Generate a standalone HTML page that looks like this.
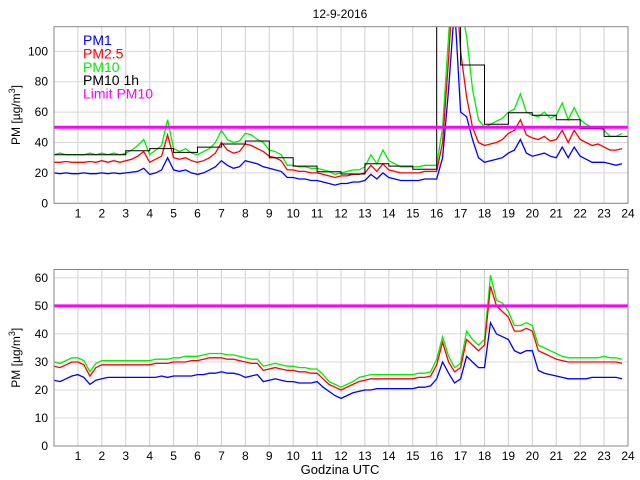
<!DOCTYPE html>
<html><head><meta charset="utf-8"><style>
html,body{margin:0;padding:0;background:#fff}
svg{display:block;font-family:"Liberation Sans",sans-serif}
</style></head><body>
<svg id="chart" width="640" height="480" viewBox="0 0 640 480" xmlns="http://www.w3.org/2000/svg">
<text x="340" y="18" font-size="12" text-anchor="middle">12-9-2016</text>
<g id="top"></g>
<g id="bot"></g>
<text x="340" y="474" font-size="13" text-anchor="middle">Godzina UTC</text>
</svg>
<script>
const hourTicks=[1,2,3,4,5,6,7,8,9,10,11,12,13,14,15,16,17,18,19,20,21,22,23,24];
const topYTicks=[0,20,40,60,80,100];
const botYTicks=[0,10,20,30,40,50,60];
const limitPM10=50;
const topPM1=[20,19.5,20,19.5,19.5,20,19.5,19.5,20,19.5,20,19.5,20,20.5,21,23,19,20,22,30,22,21,22,20,19,20,22,24,28,25,23,24,28,27,26,24,23,22,21,17,17,16,16,15,15,14,13,12,13,13,14,14,15,19,16,20,17,16,15,15,15,15,16,16,16,30,75,130,60,57,42,30,27,28,29,30,33,35,42,33,31,32,33,31,30,37,30,37,31,29,27,27,27,26,25,26];
const topPM25=[27,27,27.5,27,27,27,27.5,27,28,27,28,27,28,29,31,34,27,29,31,45,30,29,30,28,27,28,30,33,40,35,33,34,39,38,36,34,31,30,28,22,22,21,21,20,20,19,18,17,18,18,19,19,20,25,21,26,22,21,20,20,20,20,21,21,21,40,95,160,100,70,50,40,38,39,40,42,46,48,55,45,43,42,44,41,42,48,40,48,42,40,38,39,37,35,35,36];
const topPM10=[32,33,32,32,32,32,33,32,33,32,33,32,33,35,38,42,32,35,38,55,36,34,36,33,32,34,36,40,48,42,40,41,46,45,42,40,35,34,32,25,25,24,24,23,23,22,21,19,20,21,22,22,24,32,26,35,28,26,24,24,24,24,25,25,25,50,110,180,130,110,75,55,50,52,54,56,60,62,72,60,58,57,60,56,58,66,55,63,55,52,50,50,48,44,44,46];
const topPM10h=[32,32,32,34.6,36,33.5,37,39,41,30,24.5,20.7,19.3,26,24.5,22.4,140,91,52,59.6,58,55,49,44];
const botPM1=[23.5,23,24,25,25.5,24.5,22,23.5,24,24.5,24.5,24.5,24.5,24.5,24.5,24.5,24.5,24.5,25,24.5,25,25,25,25,25.5,25.5,26,26,26.5,26,26,25.5,24.5,25,25.5,23,23.5,24,23.5,23,23,22.5,22.5,22.5,23,21,19.5,18,17,18,19,19.5,20,20,20.5,20.5,20.5,20.5,20.5,20.5,20.5,21,21,21.5,24,30,26,22.5,24,32,30,28,28,44,40,39,38,34,33,34,34,27,26,25.5,25,24.5,24,24,24,24,24.5,24.5,24.5,24.5,24.5,24];
const botPM25=[28.5,28,29,30,30,29,25,28,29,29,29,29,29,29,29,29,29,29.5,29.5,29.5,30,30,30,30.5,30.5,31,31.5,31.5,31.5,31,31,30.5,30,29.5,29.5,27,27.5,28,27.5,27,27,26.5,26.5,26,26,24,22,21,20,21,22,23,23.5,24,24,24,24,24,24,24,24,24.5,24.5,25,29,37,30,26.5,28,38,36,34,36,57,50,48,46,41,41,42,41,34,33,32,31,30.5,30,30,30,30,30,30,30,30,30,29.5];
const botPM10=[30,29.5,30.5,31.5,31.5,30.5,26.5,29.5,30.5,30.5,30.5,30.5,30.5,30.5,30.5,30.5,30.5,31,31,31,31.5,31.5,32,32,32,32.5,33,33,33,32.5,32.5,32,31.5,31,31,28.5,29,29.5,29,28.5,28.5,28,28,27.5,27.5,25.5,23,22,21,22,23,24.5,25,25.5,25.5,25.5,25.5,25.5,25.5,25.5,25.5,26,26,26.5,31,39,32,28,29.5,41,38,36,38,61,52,51,48,43,43,44,43,36,35,34,33,32,31.5,31.5,31.5,31.5,31.5,31.5,32,31.5,31.5,31];

const NS="http://www.w3.org/2000/svg";
const X0=54,X1=628;
function xs(h){return X0+(X1-X0)*h/24;}
function mk(tag,attrs,parent){const e=document.createElementNS(NS,tag);for(const k in attrs)e.setAttribute(k,attrs[k]);parent.appendChild(e);return e;}

function panel(g,id,yTop,yBot,vMax,yTicks,series,hourly,showLegend){
  const ys=v=>yBot-(yBot-yTop)*v/vMax;
  const cp=mk('clipPath',{id:'clip'+id},g);
  mk('rect',{x:X0,y:yTop,width:X1-X0,height:yBot-yTop},cp);
  for(const h of hourTicks){
    const l=mk('line',{x1:xs(h),x2:xs(h),y1:yTop,y2:yBot,stroke:'#d0d0d0','stroke-width':1},g);
    
    
    const t=mk('text',{x:xs(h),y:yBot+14,'font-size':12,'text-anchor':'middle'},g);
    t.textContent=h;
    
    
  }
  for(const v of yTicks){
    const l=mk('line',{x1:X0,x2:X1,y1:ys(v),y2:ys(v),stroke:'#d8d8d8','stroke-width':1},g);
    
    
    const t=mk('text',{x:X0-6,y:ys(v)+4,'font-size':12,'text-anchor':'end'},g);
    t.textContent=v;
    
    
  }
  const cg=mk('g',{'clip-path':'url(#clip'+id+')'},g);
  for(const s of series){
    const pts=s.data.map((v,i)=>xs(i*0.25).toFixed(1)+','+ys(v).toFixed(1)).join(' ');
    const p=mk('polyline',{points:pts,fill:'none',stroke:s.color,'stroke-width':1.3},cg);
    
    
  }
  if(hourly){
    let d='';
    hourly.forEach((v,i)=>{d+=(i?'L':'M')+xs(i).toFixed(1)+','+ys(v).toFixed(1)+'L'+xs(i+1).toFixed(1)+','+ys(v).toFixed(1);});
    const p=mk('path',{d:d,fill:'none',stroke:'#000','stroke-width':1},cg);
    
    
  }
  const lim=mk('line',{x1:X0,x2:X1,y1:ys(limitPM10),y2:ys(limitPM10),stroke:'#ff00ff','stroke-width':3},g);
  
  
  const fr=mk('rect',{x:X0,y:yTop,width:X1-X0,height:yBot-yTop,fill:'none',stroke:'#888','stroke-width':1},g);
  
  
  const yt=mk('text',{x:0,y:0,'font-size':12,'text-anchor':'middle',transform:'translate(20,'+((yTop+yBot)/2)+') rotate(-90)'},g);
  yt.innerHTML='PM [µg/m<tspan dy="-5" font-size="9">3</tspan><tspan dy="5">]</tspan>';
  
  
  if(showLegend){
    const items=[['PM1','#0000ff'],['PM2.5','#ff0000'],['PM10','#00ee00'],['PM10 1h','#000'],['Limit PM10','#ff00ff']];
    items.forEach((it,i)=>{
      const t=mk('text',{x:83,y:45+i*13.4,'font-size':14,fill:it[1]},g);
      t.textContent=it[0];
      
      
    });
  }
}
panel(document.getElementById('top'),'t',26.7,203.3,116.2,topYTicks,
  [{data:topPM10,color:'#00ee00',name:'pm10-line'},{data:topPM25,color:'#ff0000',name:'pm25-line'},{data:topPM1,color:'#0000ff',name:'pm1-line'}],topPM10h,true);
panel(document.getElementById('bot'),'b',269.5,446,63,botYTicks,
  [{data:botPM10,color:'#00ee00',name:'pm10-line'},{data:botPM25,color:'#ff0000',name:'pm25-line'},{data:botPM1,color:'#0000ff',name:'pm1-line'}],null,false);
</script>
</body></html>
